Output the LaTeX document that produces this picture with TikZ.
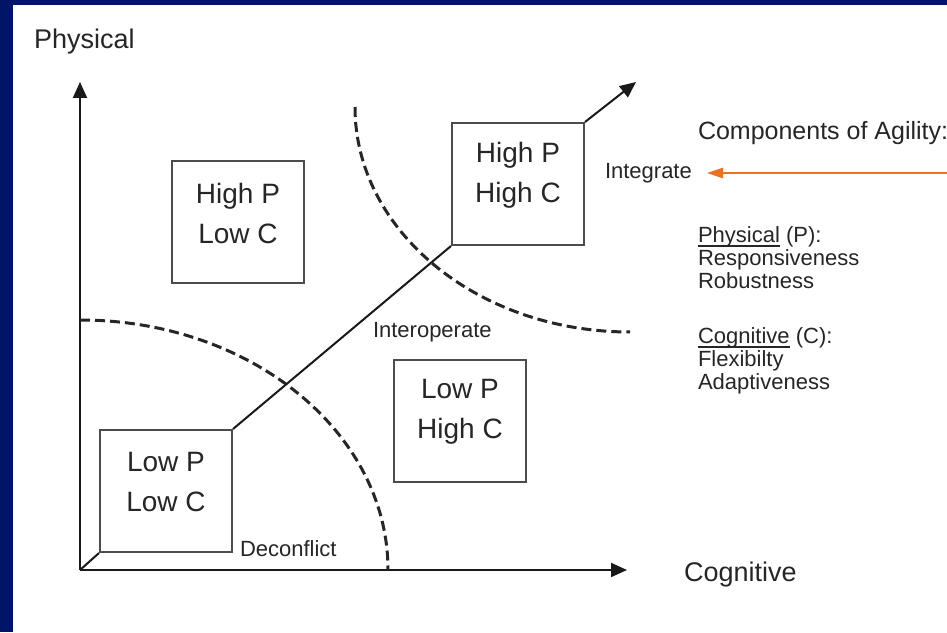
\documentclass[tikz,border=0pt]{standalone}
\usepackage{fontspec}
\setmainfont{Liberation Sans}
\usepackage{tikz}
\usetikzlibrary{arrows.meta}

\definecolor{navy}{RGB}{0,20,104}
\definecolor{agilorange}{RGB}{240,112,32}

% underline set close to the baseline
\newcommand{\legendul}[1]{\setbox0\hbox{#1}\rlap{\rule[-1.8pt]{\wd0}{1pt}}\box0\relax}

\begin{document}
\begin{tikzpicture}[x=0.5pt, y=0.5pt, line width=1pt,
  box/.style={draw=black!70, line width=1pt, minimum width=66pt, minimum height=61pt, inner sep=0pt},
  boxtext/.style={align=center, font=\fontsize{14}{20}\selectfont, text=black!85, inner sep=0pt},
  small/.style={font=\fontsize{11}{11.5}\selectfont, text=black!85, inner sep=0pt},
  big/.style={font=\fontsize{13.5}{16}\selectfont, text=black!85, inner sep=0pt},
  zone/.style={draw=black!85, line width=1.5pt, dash pattern=on 5pt off 2.5pt},
  tip/.style={draw=black!90, -{Triangle[length=8pt, width=7pt]}}]

% background and frame
\useasboundingbox (0,0) rectangle (947,632);
\fill[white] (0,0) rectangle (947,632);
\fill[navy] (0,627) rectangle (947,632);
\fill[navy] (0,0) rectangle (13,632);

% draw axes
\coordinate (O) at (80,62);
\coordinate (ytip) at (80,550);
\coordinate (xtip) at (627,62);
\draw[tip] (O) -- (ytip);
\draw[tip] (O) -- (xtip);
\node[big, anchor=west] (phys) at (33,590) {Physical};
\node[big, anchor=west] (cogn) at (683,57) {Cognitive};

% draw dashed zone borders
\draw[zone] (80,312) arc [start angle=90, end angle=0, x radius=308, y radius=250];
\draw[zone] (355,525) arc [start angle=180, end angle=270, x radius=275, y radius=225];

% draw boxes
\node[box] (lplc) at (166,141) {};
\node[box] (hplc) at (238,410) {};
\node[box] (hphc) at (518,448) {};
\node[box] (lphc) at (460,211) {};
\node[boxtext] (lplc-t) at ([yshift=4.5pt]lplc.center) {Low P\\Low C};
\node[boxtext] (hplc-t) at ([yshift=4.5pt]hplc.center) {High P\\Low C};
\node[boxtext] (hphc-t) at ([yshift=4.5pt]hphc.center) {High P\\High C};
\node[boxtext] (lphc-t) at ([yshift=4.5pt]lphc.center) {Low P\\High C};

% draw diagonal
\coordinate (dtip) at (636,550);
\draw[black!90] (O) -- (lplc.south west);
\draw[black!90] (lplc.north east) -- (hphc.south west);
\draw[tip] (hphc.north east) -- (dtip);

% draw labels
\node[small, anchor=west] (decon) at (239,83) {Deconflict};
\node[small, anchor=west] (inter) at (372,300) {Interoperate};
\node[small, anchor=west] (integ) at (604,459) {Integrate};
\node[font=\fontsize{12.5}{14}\selectfont, text=black!85, inner sep=0pt, anchor=west] (comp) at (697,499) {Components of Agility:};
\node[small, align=left, anchor=north west] (plist) at (697,406) {\legendul{Physical} (P):\\Responsiveness\\Robustness};
\node[small, align=left, anchor=north west] (clist) at (697,305) {\legendul{Cognitive} (C):\\Flexibilty\\Adaptiveness};

% orange pointer
\coordinate (agledge) at (947,459);
\draw[agilorange, line width=1.2pt, -{Triangle[length=8pt, width=5pt]}, shorten >=7pt] (agledge) -- (integ.east);

\end{tikzpicture}
\end{document}
